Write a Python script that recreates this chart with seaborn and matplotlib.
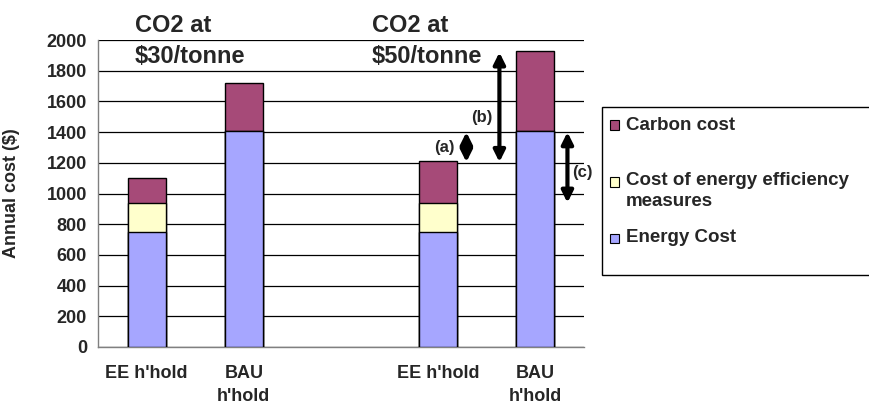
import pandas as pd
import matplotlib.pyplot as plt
import seaborn as sns
from matplotlib.patches import Rectangle

# Data
bar_keys = ["EE30", "BAU30", "gap", "EE50", "BAU50"]
bar_labels = ["EE h'hold", "BAU\nh'hold", "", "EE h'hold", "BAU\nh'hold"]
energy_cost = [750, 1410, None, 750, 1410]
ee_measures = [190, 0, None, 190, 0]
carbon_cost = [160, 310, None, 270, 520]

series_names = ["Carbon cost", "Cost of energy efficiency\nmeasures", "Energy Cost"]
colors = {"energy": "#A6A6FF", "eem": "#FFFFCC", "carbon": "#A64A78"}

df = pd.DataFrame({"key": bar_keys, "energy": energy_cost,
                   "eem": ee_measures, "carbon": carbon_cost})
df["lvl1"] = df["energy"]
df["lvl2"] = df["energy"] + df["eem"]
df["lvl3"] = df["lvl2"] + df["carbon"]

sns.set_style("white")
plt.rcParams['font.family'] = ['Liberation Sans', 'DejaVu Sans']

fig = plt.figure(figsize=(8.69, 4.09), dpi=100)
ax = fig.add_axes([0.1128, 0.1516, 0.672 - 0.1128, 0.902 - 0.1516])

# stacked bars drawn as cumulative totals, back to front
for col, c in [("lvl3", colors["carbon"]), ("lvl2", colors["eem"]), ("lvl1", colors["energy"])]:
    sns.barplot(data=df, x="key", y=col, order=bar_keys, color=c, width=0.39,
                edgecolor="black", linewidth=1, saturation=1, ax=ax, zorder=3)

ax.set_ylim(0, 2000)
ax.set_xlim(-0.5, 4.5)
ax.set_yticks(range(0, 2001, 200))
ax.yaxis.grid(True, color="black", linewidth=0.9)
ax.set_axisbelow(True)
for s in ["top", "right"]:
    ax.spines[s].set_visible(False)
for s in ["left", "bottom"]:
    ax.spines[s].set_color("#808080")
    ax.spines[s].set_linewidth(1)

ax.set_xticks([-0.5, 0.5, 1.5, 2.5, 3.5, 4.5])
ax.set_xticklabels([])
ax.tick_params(axis="x", which="major", length=5, direction="out", color="#808080")
ax.set_xticks(range(5), minor=True)
ax.set_xticklabels(bar_labels, minor=True, fontsize=13, fontweight="bold",
                   va="top", linespacing=1.45)
ax.tick_params(axis="x", which="minor", length=0, pad=13)
ax.tick_params(axis="y", length=4, color="#808080", labelsize=13, pad=4)
for t in ax.get_yticklabels():
    t.set_fontweight("bold")
ax.set_xlabel("")
ax.set_ylabel("Annual cost ($)", fontsize=13, fontweight="bold")
ax.yaxis.set_label_coords(-0.16, 0.5)

# headings above each group
for x0, price in [(-0.12, "$30/tonne"), (2.32, "$50/tonne")]:
    ax.text(x0, 2052, "CO2 at", fontsize=17, fontweight="bold", ha="left", va="baseline")
    ax.text(x0, 1850, price, fontsize=17, fontweight="bold", ha="left", va="baseline",
            zorder=5)

# double-headed difference arrows
arrow = dict(arrowstyle="<|-|>", color="black", lw=3, mutation_scale=17,
             shrinkA=0, shrinkB=0)
for x, y0, y1 in [(3.29, 1205, 1400), (3.63, 1205, 1920), (4.33, 1400, 940)]:
    ax.annotate("", xy=(x, y1), xytext=(x, y0), arrowprops=arrow, annotation_clip=False)
ax.text(3.06, 1300, "(a)", fontsize=12, fontweight="bold", ha="center", va="center")
ax.text(3.45, 1495, "(b)", fontsize=12, fontweight="bold", ha="center", va="center")
ax.text(4.48, 1135, "(c)", fontsize=12, fontweight="bold", ha="center", va="center")

# legend box, laid out like the spreadsheet legend
W, H = 869, 409
fig.patches.append(Rectangle((602 / W, 1 - 275 / H), 300 / W, 168 / H,
                             transform=fig.transFigure, facecolor="white",
                             edgecolor="black", linewidth=1))
sq = 9
legend_rows = [(125, colors["carbon"], series_names[0]),
               (182, colors["eem"], series_names[1]),
               (238, colors["energy"], series_names[2])]
for y, c, label in legend_rows:
    fig.patches.append(Rectangle((610 / W, 1 - (y + sq / 2) / H), sq / W, sq / H,
                                 transform=fig.transFigure, facecolor=c,
                                 edgecolor="black", linewidth=0.8))
    if "\n" in label:
        fig.text(626 / W, 1 - (y - 10) / H, label, fontsize=13.5, fontweight="bold",
                 ha="left", va="top", linespacing=1.3)
    else:
        fig.text(626 / W, 1 - y / H, label, fontsize=13.5, fontweight="bold",
                 ha="left", va="center")

fig.savefig("out.png", dpi=100)
